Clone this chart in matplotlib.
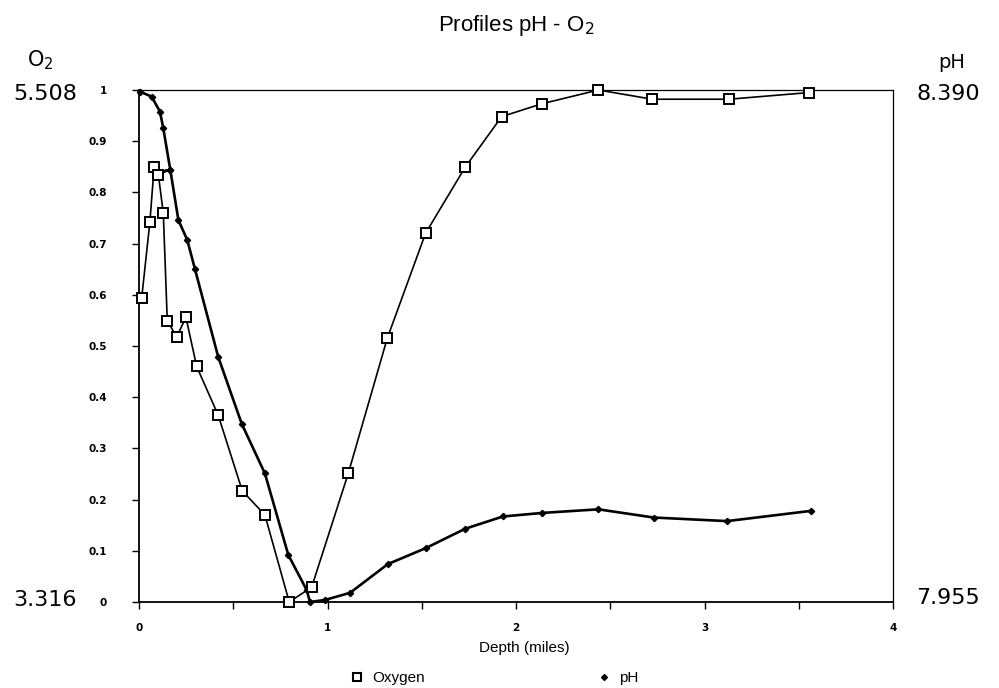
import matplotlib
matplotlib.use("Agg")
import matplotlib.pyplot as plt
from matplotlib.lines import Line2D
from matplotlib.ticker import FixedLocator, FixedFormatter, MultipleLocator

# ---- data (normalised 0..1 profiles) ----
ox_depth = [0.014, 0.058, 0.080, 0.103, 0.129, 0.150, 0.200, 0.249, 0.306, 0.420,
            0.548, 0.668, 0.797, 0.916, 1.110, 1.317, 1.520, 1.730, 1.924, 2.136,
            2.437, 2.723, 3.130, 3.554]
ox_val = [0.593, 0.743, 0.849, 0.834, 0.759, 0.549, 0.518, 0.556, 0.460, 0.365,
          0.217, 0.170, 0.000, 0.029, 0.251, 0.515, 0.720, 0.849, 0.948, 0.973,
          1.000, 0.982, 0.982, 0.995]

ph_depth = [0.005, 0.067, 0.111, 0.129, 0.166, 0.095, 0.166, 0.209, 0.256, 0.297,
            0.420, 0.545, 0.668, 0.792, 0.890, 0.907, 0.987, 1.120, 1.320, 1.520,
            1.730, 1.930, 2.140, 2.437, 2.730, 3.120, 3.565]
ph_val = [0.997, 0.987, 0.958, 0.925, 0.844, 0.838, 0.844, 0.746, 0.707, 0.650,
          0.479, 0.348, 0.251, 0.092, 0.023, 0.000, 0.004, 0.018, 0.074, 0.105,
          0.143, 0.167, 0.174, 0.181, 0.165, 0.158, 0.178]

y_ticks = [0, 0.1, 0.2, 0.3, 0.4, 0.5, 0.6, 0.7, 0.8, 0.9, 1.0]
y_tick_labels = ["0", "0.1", "0.2", "0.3", "0.4", "0.5", "0.6", "0.7", "0.8", "0.9", "1"]
x_ticks = [0, 1, 2, 3, 4]
x_tick_labels = ["0", "1", "2", "3", "4"]

series_names = ["Oxygen", "pH"]
o2_range = ["5.508", "3.316"]
ph_range = ["8.390", "7.955"]

W, H = 999, 688
fig = plt.figure(figsize=(W / 100, H / 100), dpi=100)
ax = fig.add_axes([139 / W, 1 - 602 / H, (893 - 139) / W, (602 - 90) / H])

ax.plot(ph_depth, ph_val, color="black", lw=1.9, marker="D", ms=3.2,
        mfc="black", mec="black", clip_on=False, zorder=3)
ax.plot(ox_depth, ox_val, color="black", lw=1.2, marker="s", ms=7,
        mfc="white", mec="black", mew=1.4, clip_on=False, zorder=4)

ax.set_xlim(0, 4)
ax.set_ylim(0, 1)
ax.xaxis.set_major_locator(FixedLocator(x_ticks))
ax.xaxis.set_major_formatter(FixedFormatter(x_tick_labels))
ax.xaxis.set_minor_locator(MultipleLocator(0.5))
ax.yaxis.set_major_locator(FixedLocator(y_ticks))
ax.yaxis.set_major_formatter(FixedFormatter(y_tick_labels))

ax.tick_params(axis="y", which="major", direction="out", length=5, width=1,
               pad=18, labelsize=7.5)
ax.tick_params(axis="x", which="both", direction="out", length=5, width=1,
               pad=10, labelsize=7.5)
for lab in ax.get_xticklabels() + ax.get_yticklabels():
    lab.set_fontweight("bold")

for side in ["left", "bottom"]:
    ax.spines[side].set_linewidth(1.3)
for side in ["top", "right"]:
    ax.spines[side].set_linewidth(0.9)

# title and labels
fig.text(516 / W, 1 - 25 / H, "Profiles pH - O$_2$", ha="center", va="center",
         fontsize=16, family="Liberation Sans")
fig.text(524 / W, 1 - 648 / H, "Depth (miles)", ha="center", va="center",
         fontsize=11, family="Liberation Sans")

# side range labels
fig.text(27 / W, 1 - 60 / H, "O$_2$", ha="left", va="center", fontsize=15,
         family="DejaVu Sans")
fig.text(45 / W, 1 - 94 / H, o2_range[0], ha="center", va="center", fontsize=16,
         family="DejaVu Sans")
fig.text(45 / W, 1 - 600 / H, o2_range[1], ha="center", va="center", fontsize=16,
         family="DejaVu Sans")
fig.text(952 / W, 1 - 62 / H, "pH", ha="center", va="center", fontsize=14,
         family="DejaVu Sans")
fig.text(948 / W, 1 - 94 / H, ph_range[0], ha="center", va="center", fontsize=16,
         family="DejaVu Sans")
fig.text(948 / W, 1 - 598 / H, ph_range[1], ha="center", va="center", fontsize=16,
         family="DejaVu Sans")

# legend
handles = [
    Line2D([], [], ls="none", marker="s", ms=6, mfc="white", mec="black", mew=1.5),
    Line2D([], [], ls="none", marker="D", ms=3, mfc="black", mec="black"),
]
fig.legend(handles, series_names, loc="center", bbox_to_anchor=(494 / W, 1 - 678 / H),
           ncol=2, frameon=False, columnspacing=11.2, handlelength=1.0,
           handletextpad=0.5, prop={"family": "Liberation Sans", "size": 11})

fig.savefig("out.png", dpi=100)
